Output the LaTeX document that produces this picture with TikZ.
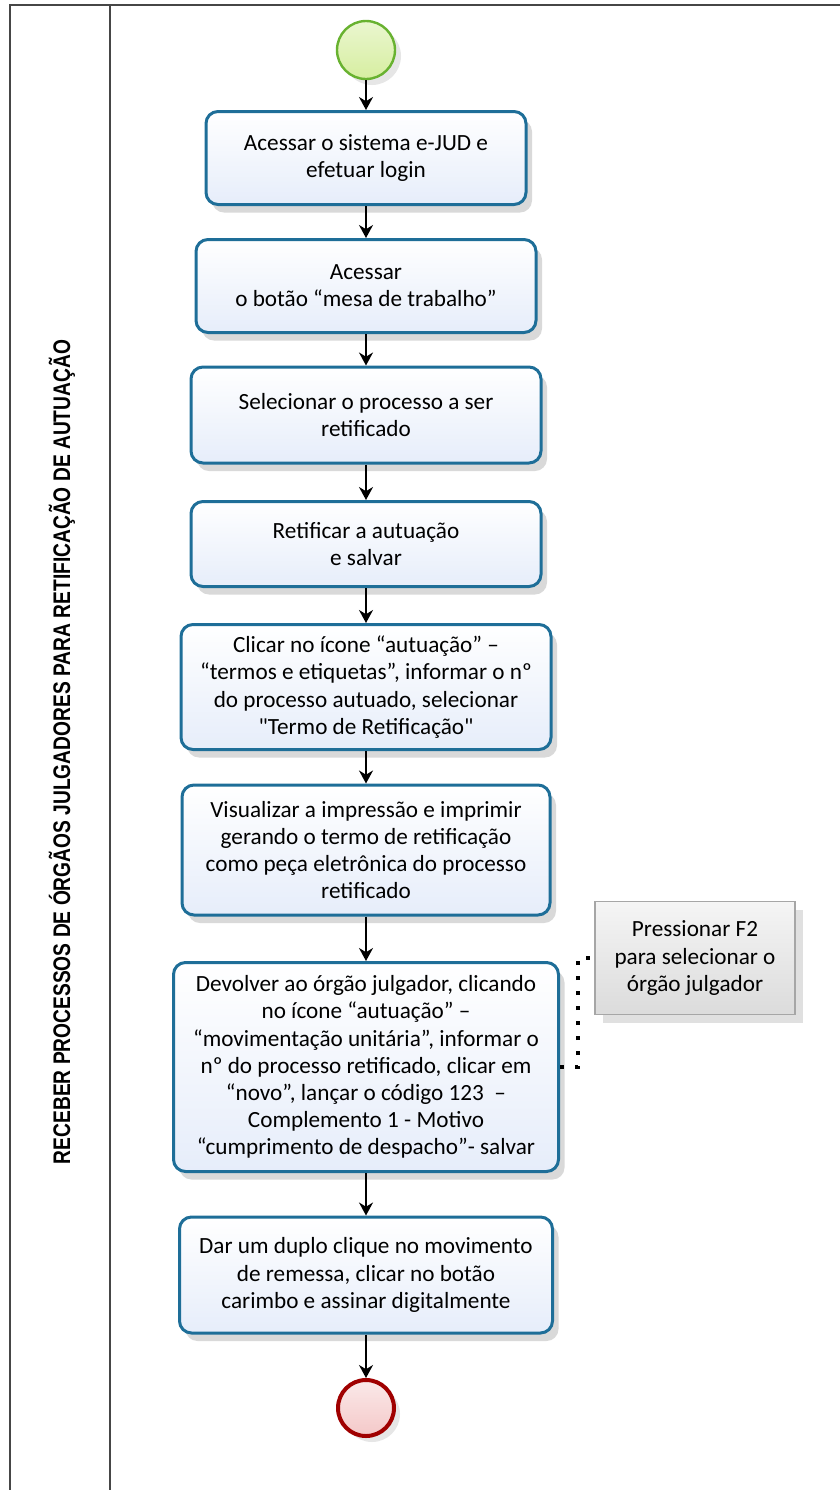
\documentclass[tikz,border=0pt]{standalone}
\usepackage{fontspec}
\usepackage{graphicx}
\setmainfont{Carlito}
\newfontfamily\lanefont{Liberation Sans}
\usetikzlibrary{shadows,arrows.meta}
\definecolor{taskline}{RGB}{30,110,152}
\definecolor{taskfill}{RGB}{230,237,250}
\definecolor{startline}{RGB}{104,178,48}
\definecolor{startfill}{RGB}{214,238,160}
\definecolor{endline}{RGB}{160,0,0}
\definecolor{endfill}{RGB}{244,200,200}
\definecolor{laneline}{RGB}{70,70,70}

\begin{document}
\begin{tikzpicture}[x=0.5pt, y=-0.5pt, thick, >={Stealth[length=6.5pt,width=7pt]},
    task/.style={draw=taskline, line width=1.5pt, rounded corners=6pt, top color=white, bottom color=taskfill,
        align=center, inner sep=2pt, font=\fontsize{11.6}{13.6}\selectfont,
        drop shadow={shadow xshift=3pt, shadow yshift=-4pt, opacity=0.25, fill=black!60}},
    note/.style={draw=black!35, line width=0.6pt, top color=black!4, bottom color=black!14,
        align=center, font=\fontsize{11.6}{13.6}\selectfont,
        drop shadow={shadow xshift=4pt, shadow yshift=-4pt, opacity=0.2, fill=black!60}},
    flow/.style={->, line width=0.9pt}]
    \useasboundingbox (0,0) rectangle (840,1490);
    % pool
    \draw[laneline, line width=1pt] (10,1490) -- (10,5) -- (840,5);
    \draw[laneline, line width=1pt] (110,5) -- (110,1490);
    \node[rotate=90, font=\lanefont\bfseries\fontsize{12}{14}\selectfont] (lane) at (62,752)
        {\scalebox{0.8}[1]{RECEBER PROCESSOS DE ÓRGÃOS JULGADORES PARA RETIFICAÇÃO DE AUTUAÇÃO}};
    % events
    \node[circle, draw=startline, line width=1.2pt, top color=startfill!50, bottom color=startfill,
        minimum size=29pt, drop shadow={shadow xshift=3pt, shadow yshift=-3pt, opacity=0.2}] (start) at (366,50) {};
    \node[circle, draw=endline, line width=2pt, top color=endfill!40, bottom color=endfill,
        minimum size=28pt, drop shadow={shadow xshift=3pt, shadow yshift=-3pt, opacity=0.2}] (end) at (366,1408) {};
    % tasks
    \node[task, minimum width=160pt, minimum height=46.5pt] (b1) at (366,158) {Acessar o sistema e-JUD e\\efetuar login};
    \node[task, minimum width=170pt, minimum height=46.5pt] (b2) at (366,286) {Acessar\\o botão “mesa de trabalho”};
    \node[task, minimum width=175pt, minimum height=48pt] (b3) at (366,415) {Selecionar o processo a ser\\retificado};
    \node[task, minimum width=175pt, minimum height=42.5pt] (b4) at (366,544) {Retificar a autuação\\e salvar};
    \node[task, minimum width=185pt, minimum height=62.5pt] (b5) at (366,687) {Clicar no ícone “autuação” –\\“termos e etiquetas”, informar o nº\\do processo autuado, selecionar\\\textquotedbl Termo de Retificação\textquotedbl};
    \node[task, minimum width=184pt, minimum height=65pt] (b6) at (366,850) {Visualizar a impressão e imprimir\\gerando o termo de retificação\\como peça eletrônica do processo\\retificado};
    \node[task, minimum width=192.5pt, minimum height=104.5pt] (b7) at (366,1067) {Devolver ao órgão julgador, clicando\\no ícone “autuação” –\\“movimentação unitária”, informar o\\nº do processo retificado, clicar em\\“novo”, lançar o código 123 \ –\\Complemento 1 - Motivo\\“cumprimento de despacho”- salvar};
    \node[task, minimum width=186.5pt, minimum height=58pt] (b8) at (366,1275) {Dar um duplo clique no movimento\\de remessa, clicar no botão\\carimbo e assinar digitalmente};
    % annotation
    \node[note, minimum width=100pt, minimum height=56.5pt] (ann) at (695,958) {Pressionar F2\\para selecionar o\\órgão julgador};
    \draw[line width=2pt, dash pattern=on 2pt off 5.5pt] (b7.east) -- ++(18,0) |- (ann.west);
    % flow
    \draw[flow] (start) -- (b1);
    \draw[flow] (b1) -- (b2);
    \draw[flow] (b2) -- (b3);
    \draw[flow] (b3) -- (b4);
    \draw[flow] (b4) -- (b5);
    \draw[flow] (b5) -- (b6);
    \draw[flow] (b6) -- (b7);
    \draw[flow] (b7) -- (b8);
    \draw[flow] (b8) -- (end);
\end{tikzpicture}
\end{document}
